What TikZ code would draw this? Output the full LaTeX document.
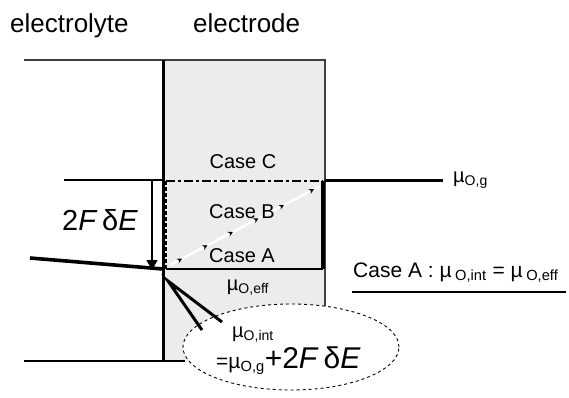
\documentclass[tikz,border=0pt]{standalone}
\usepackage{fontspec}
\setmainfont{Liberation Sans}
\usetikzlibrary{arrows.meta,decorations.markings,shapes.geometric}
\definecolor{elgrey}{HTML}{ECECEC}
\definecolor{edge}{HTML}{404040}
\newcommand{\msub}[1]{\textsubscript{#1}}
\tikzset{
  big/.style={font=\fontsize{26}{30}\selectfont, inner sep=0pt},
  lbl/.style={font=\fontsize{20}{24}\selectfont, inner sep=0pt},
  huge/.style={font=\fontsize{29}{32}\selectfont, inner sep=0pt},
  thickline/.style={line width=3pt},
  mk/.style={decoration={markings,
    mark=at position 0.08 with {\arrow[black]{Stealth[length=5pt,width=5pt]}},
    mark=at position 0.25 with {\arrow[black]{Stealth[length=5pt,width=5pt]}},
    mark=at position 0.42 with {\arrow[black]{Stealth[length=5pt,width=5pt]}},
    mark=at position 0.59 with {\arrow[black]{Stealth[length=5pt,width=5pt]}},
    mark=at position 0.76 with {\arrow[black]{Stealth[length=5pt,width=5pt]}},
    mark=at position 0.96 with {\arrow[black]{Stealth[length=5pt,width=5pt]}}},
  postaction={decorate}},
}
\begin{document}
\begin{tikzpicture}[x=1pt,y=-1pt]
\useasboundingbox (0,0) rectangle (569,397);
% coordinates
\coordinate (tl) at (24,60);
\coordinate (eTL) at (163,60);
\coordinate (eTR) at (325,60);
\coordinate (eBR) at (325,361);
\coordinate (eBL) at (163,361);
\coordinate (bl) at (24,361);
\coordinate (bEnd) at (185,361);
% electrode box
\fill[elgrey] (eTL) rectangle (eBR);
\draw[edge, line width=2pt] (tl) -- (eTR) -- (eBR);
\draw[line width=1.6pt] (bl) -- (bEnd);
\draw[line width=3pt] (eTL) -- (eBL);
% mu_O,g level
\coordinate (gL) at (64,180);
\coordinate (gI) at (163,180);
\coordinate (gR) at (325,180);
\coordinate (gE) at (443,180);
\draw[line width=1.4pt] (gL) -- (gI);
\draw[thickline] (gR) -- (gE);
% 2F dE arrow
\coordinate (aT) at (152,180);
\coordinate (aB) at (152,270);
\draw[line width=1.2pt, -{Triangle[width=11pt,length=10pt]}] (aT) -- (aB);
% electrolyte level line
\coordinate (lL) at (30,258);
\coordinate (lR) at (163,269);
\draw[line width=3.6pt] (lL) -- (lR);
% case boxes
\coordinate (cTL) at (166,181);
\coordinate (cTR) at (323,181);
\coordinate (cBL) at (166,269);
\coordinate (cBR) at (323,269);
\draw[line width=2.4pt, dash pattern=on 9pt off 3pt on 3pt off 3pt] (cTL) -- (cTR);
\draw[line width=2.4pt, dash pattern=on 4pt off 2pt] (cTL) -- (cBL);
\draw[line width=3.2pt] (cTR) -- (cBR);
\draw[line width=2.6pt] (cBL) -- (cBR);
% diagonal
\coordinate (dS) at (170,265);
\coordinate (dE) at (320,186);
\draw[white, line width=2.5pt, mk] (dS) -- (dE);
% ellipse callout
\node[ellipse, draw, dashed, line width=0.9pt, fill=white, minimum width=216pt, minimum height=86pt, inner sep=0pt] (ell) at (291,347) {};
\coordinate (pT) at (168,281);
\coordinate (p1) at (222,322);
\coordinate (p2) at (202,330);
\draw[line width=3pt, line join=miter] (p1) -- (pT) -- (p2);
% labels
\node[big, anchor=base west] (t1) at (10,32) {electrolyte};
\node[big, anchor=base west] (t2) at (193,32) {electrode};
\node[lbl, anchor=base] (cc) at (243,168) {Case C};
\node[lbl, anchor=base] (cb) at (242,218) {Case B};
\node[lbl, anchor=base] (ca) at (242,262) {Case A};
\node[lbl, anchor=base] (meff) at (248,290) {\textmu\msub{O,eff}};
\node[lbl, anchor=base west] (mg) at (453,182) {\textmu\msub{O,g}};
\node[huge, anchor=base west] (fde) at (62,230) {2\textit{F}\,δ\textit{E}};
\node[font=\fontsize{21}{24}\selectfont, inner sep=0pt, anchor=base west] (casea) at (353,277) {Case A : \textmu\,\msub{O,int} = \textmu\,\msub{O,eff}};
\coordinate (uL) at (352,292);
\coordinate (uR) at (566,292);
\draw[line width=1.6pt] (uL) -- (uR);
\node[lbl, anchor=base west] (mint) at (232,337) {\textmu\msub{O,int}};
\node[anchor=base west, inner sep=0pt] (eq) at (216,368) {\fontsize{21}{24}\selectfont =\textmu\msub{O,g}\fontsize{30}{33}\selectfont+2\textit{F}\,δ\textit{E}};
\end{tikzpicture}
\end{document}
